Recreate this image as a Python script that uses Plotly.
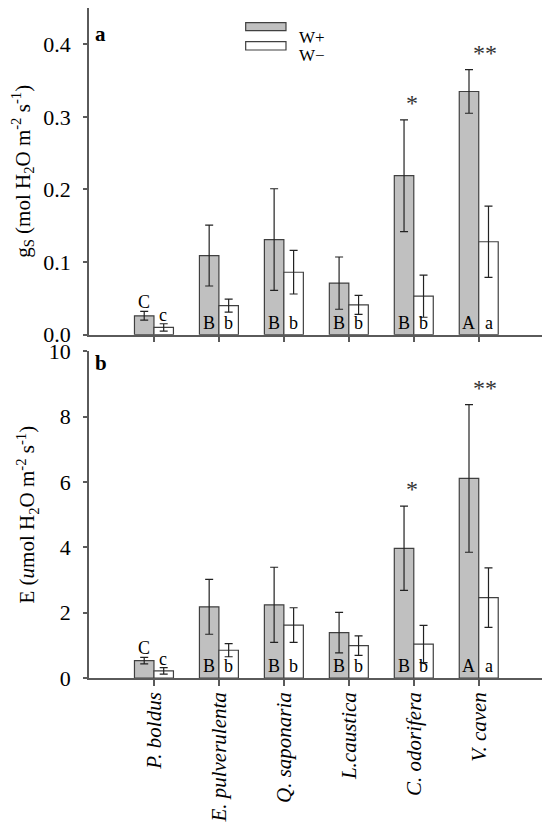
import plotly.graph_objects as go
from plotly.subplots import make_subplots

species = ['P. boldus', 'E. pulverulenta', 'Q. saponaria', 'L.caustica', 'C. odorifera', 'V. caven']

# stomatal conductance (panel a)
gs_wplus = [0.026, 0.109, 0.131, 0.071, 0.219, 0.335]
gs_wplus_err = [0.006, 0.042, 0.070, 0.036, 0.077, 0.030]
gs_wminus = [0.010, 0.040, 0.086, 0.041, 0.053, 0.128]
gs_wminus_err = [0.005, 0.009, 0.030, 0.013, 0.029, 0.049]

# transpiration (panel b)
e_wplus = [0.53, 2.18, 2.24, 1.39, 3.97, 6.11]
e_wplus_err = [0.10, 0.84, 1.15, 0.62, 1.29, 2.26]
e_wminus = [0.22, 0.85, 1.62, 0.99, 1.04, 2.46]
e_wminus_err = [0.10, 0.20, 0.53, 0.30, 0.57, 0.91]

letters_wplus = ['C', 'B', 'B', 'B', 'B', 'A']
letters_wminus = ['c', 'b', 'b', 'b', 'b', 'a']
stars = ['', '', '', '', '*', '**']

FONT = 'Liberation Serif'
GRAY = '#c0c0c0'
EDGE = '#404040'
AXIS = '#5a5a5a'

fig = make_subplots(rows=2, cols=1, vertical_spacing=0.0249)

panels = [
    (1, gs_wplus, gs_wplus_err, gs_wminus, gs_wminus_err),
    (2, e_wplus, e_wplus_err, e_wminus, e_wminus_err),
]

for row, wp, wp_err, wm, wm_err in panels:
    fig.add_trace(go.Bar(x=species, y=wp, name='W+',
                         marker=dict(color=GRAY, line=dict(color=EDGE, width=1.2)),
                         error_y=dict(type='data', array=wp_err, color='#222222', thickness=1.2, width=4),
                         showlegend=False), row=row, col=1)
    fig.add_trace(go.Bar(x=species, y=wm, name='W−',
                         marker=dict(color='white', line=dict(color=EDGE, width=1.2)),
                         error_y=dict(type='data', array=wm_err, color='#222222', thickness=1.2, width=4),
                         showlegend=False), row=row, col=1)

    yref = 'y' if row == 1 else 'y2'
    xref = 'x' if row == 1 else 'x2'
    for i, sp in enumerate(species):
        if letters_wplus[i] == 'C':
            # letters sit above the short bars
            fig.add_annotation(x=sp, y=wp[i] + wp_err[i], xref=xref, yref=yref, text=letters_wplus[i],
                               showarrow=False, xshift=-10, yanchor='bottom', yshift=-3,
                               font=dict(family=FONT, size=18, color='black'))
            fig.add_annotation(x=sp, y=wm[i] + wm_err[i], xref=xref, yref=yref, text=letters_wminus[i],
                               showarrow=False, xshift=9, yanchor='bottom', yshift=-3,
                               font=dict(family=FONT, size=18, color='black'))
        else:
            fig.add_annotation(x=sp, y=0, xref=xref, yref=yref, text=letters_wplus[i],
                               showarrow=False, xshift=-10, yanchor='bottom', yshift=0,
                               font=dict(family=FONT, size=18, color='black'))
            fig.add_annotation(x=sp, y=0, xref=xref, yref=yref, text=letters_wminus[i],
                               showarrow=False, xshift=10, yanchor='bottom', yshift=0,
                               font=dict(family=FONT, size=18, color='black'))
        if stars[i]:
            fig.add_annotation(x=sp, y=wp[i] + wp_err[i], xref=xref, yref=yref, text=stars[i],
                               showarrow=False, xshift=-2 if stars[i] == '*' else 6,
                               yanchor='bottom', yshift=2,
                               font=dict(family=FONT, size=24, color='#333333'))

axis_common = dict(showline=True, linecolor=AXIS, linewidth=1.5, showgrid=False, zeroline=False,
                   ticks='outside', tickcolor=AXIS, tickwidth=1.5, automargin=False)

fig.update_xaxes(range=[-1, 6.02], ticklen=6, **axis_common)
fig.update_xaxes(showticklabels=False, row=1, col=1)
fig.update_xaxes(tickangle=-90, ticklabelstandoff=-2,
                 tickfont=dict(family=FONT, size=21, color='black', style='italic'),
                 row=2, col=1)

fig.update_yaxes(ticklen=4, ticklabelstandoff=8, tickfont=dict(family=FONT, size=22, color='black'),
                 **axis_common)
fig.update_yaxes(range=[0, 0.45], tickvals=[0, 0.1, 0.2, 0.3, 0.4], tickformat='.1f',
                 title=dict(text='g<sub>S</sub> (mol H<sub>2</sub>O m<sup>-2</sup> s<sup>-1</sup>)',
                            font=dict(family=FONT, size=21, color='black'), standoff=8),
                 row=1, col=1)
fig.update_yaxes(range=[0, 10], tickvals=[0, 2, 4, 6, 8, 10],
                 title=dict(text='E (<i>u</i>mol H<sub>2</sub>O m<sup>-2</sup> s<sup>-1</sup>)',
                            font=dict(family=FONT, size=21, color='black'), standoff=8),
                 row=2, col=1)

# hand-drawn legend with long swatches
fig.add_shape(type='rect', xref='paper', yref='paper', x0=0.3436, x1=0.432, y0=0.9661, y1=0.9781,
              fillcolor=GRAY, line=dict(color=EDGE, width=1.2))
fig.add_shape(type='rect', xref='paper', yref='paper', x0=0.3436, x1=0.432, y0=0.9373, y1=0.9497,
              fillcolor='white', line=dict(color=EDGE, width=1.2))
fig.add_annotation(xref='paper', yref='paper', x=0.4555, y=0.9736, text='W+', showarrow=False,
                   xanchor='left', font=dict(family=FONT, size=17, color='black'))
fig.add_annotation(xref='paper', yref='paper', x=0.4555, y=0.9458, text='W−', showarrow=False,
                   xanchor='left', font=dict(family=FONT, size=17, color='black'))

# panel letters
fig.add_annotation(xref='paper', yref='paper', x=0.008, y=0.982, text='<b>a</b>', showarrow=False,
                   xanchor='left', font=dict(family=FONT, size=21, color='black'))
fig.add_annotation(xref='paper', yref='paper', x=0.008, y=0.4704, text='<b>b</b>', showarrow=False,
                   xanchor='left', font=dict(family=FONT, size=21, color='black'))

# the page puts the figure 8px in from the top-left corner, so size it to fit the window
fig.update_layout(
    width=542, height=819,
    barmode='group', bargap=0.4, bargroupgap=0,
    plot_bgcolor='white', paper_bgcolor='white',
    margin=dict(l=81, r=5, t=0, b=149),
    font=dict(family=FONT, color='black'),
)

fig.write_html('out.html')
